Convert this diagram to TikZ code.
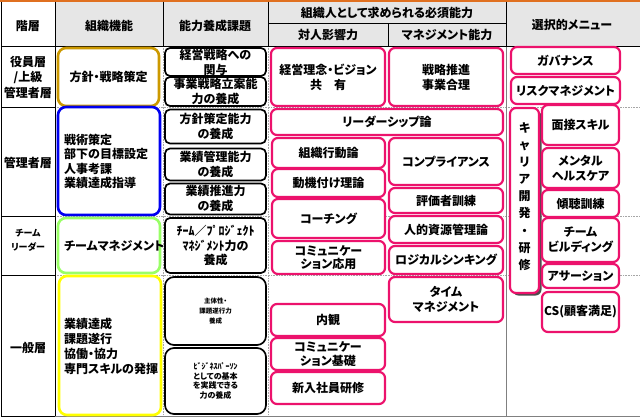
\documentclass[tikz,border=0pt]{standalone}
\usepackage{fontspec}
\setmainfont{Noto Sans CJK JP}[RawFeature=+palt]
\usetikzlibrary{shadows}

\definecolor{menupink}{RGB}{236,18,108}
\definecolor{headgray}{RGB}{230,230,230}
\definecolor{topgold}{RGB}{204,153,0}
\definecolor{midblue}{RGB}{0,0,240}
\definecolor{leafgreen}{RGB}{153,255,102}
\definecolor{brightyellow}{RGB}{255,255,0}
\definecolor{toporange}{RGB}{224,112,32}

\begin{document}
\begin{tikzpicture}[x=1pt, y=-1pt,
	every node/.style={font=\bfseries\fontsize{12}{15}\selectfont, align=center, inner sep=0pt},
	headline/.style={black, line width=0.8pt},
	softline/.style={gray!70, densely dotted, line width=0.6pt},
	pinkbox/.style={draw=menupink, line width=2.2pt, rounded corners=6pt, fill=white},
	taskbox/.style={draw=black, line width=1.7pt, rounded corners=5pt, fill=white},
	rolebox/.style={line width=2.6pt, rounded corners=8pt, fill=white}]
	% Table grid:
	\useasboundingbox (0,0) rectangle (640,418);
	\fill[headgray] (55,2) rectangle (640,46);
	\draw[toporange, line width=1.5pt] (0,0.75) -- (640,0.75);
	\draw[softline] (55,107) -- (640,107) (55,216) -- (640,216) (55,275) -- (640,275);
	\draw[softline] (163,46) -- (163,416) (268,46) -- (268,416);
	\draw[gray, line width=0.6pt] (506,46) -- (506,416) (55,416) -- (640,416);
	\draw[headline] (1,1.5) -- (1,416) -- (55,416) (55,1.5) -- (55,416);
	\draw[headline] (1,107) -- (55,107) (1,216) -- (55,216) (1,275) -- (55,275);
	\draw[headline] (1,46) -- (640,46) (163,1.5) -- (163,46) (268,1.5) -- (268,46) (506,1.5) -- (506,46);
	\draw[headline] (268,23) -- (506,23) (388,23) -- (388,46);
	% Headings:
	\node (hkaiso) at (28,26) {階層};
	\node (hkinou) at (109,26) {組織機能};
	\node (hkadai) at (215,26) {能力養成課題};
	\node (hhissu) at (387,13) {組織人として求められる必須能力};
	\node (htaijin) at (328,35) {対人影響力};
	\node (hmanage) at (447,35) {マネジメント能力};
	\node (hmenu) at (572,25) {選択的メニュー};
	\node[font=\bfseries\fontsize{12}{15.5}\selectfont] (ryakuin) at (28,77) {役員層\\/上級\\管理者層};
	\node (rkanri) at (28,163) {管理者層};
	\node[font=\bfseries\fontsize{9}{14}\selectfont] (rteam) at (28,240) {チーム\\リーダー};
	\node (rippan) at (28,348) {一般層};
	% Organisation functions:
	\node[rolebox, draw=topgold, minimum width=101pt, minimum height=58pt] (fhoushin) at (108.5,77) {方針・戦略策定};
	\node[rolebox, draw=midblue, minimum width=102pt, minimum height=108pt] (fsenjutsu) at (109,161) {};
	\node[anchor=west, align=left, font=\bfseries\fontsize{12}{14.3}\selectfont] (tsenjutsu) at (64,161.5) {戦術策定\\部下の目標設定\\人事考課\\業績達成指導};
	\node[rolebox, draw=leafgreen, minimum width=102pt, minimum height=55pt] (fteam) at (109,245.5) {};
	\node[anchor=west] (tteam) at (64,246) {チームマネジメント};
	\node[rolebox, draw=brightyellow, minimum width=102pt, minimum height=139pt] (fgyoseki) at (110,345.5) {};
	\node[anchor=west, align=left, font=\bfseries\fontsize{12}{15}\selectfont] (tgyoseki) at (64,346) {業績達成\\課題遂行\\協働・協力\\専門スキルの発揮};
	% Training tasks:
	\node[taskbox, minimum width=101pt, minimum height=28pt] (kkanyo) at (215.5,62) {経営戦略への\\関与};
	\node[taskbox, minimum width=101pt, minimum height=29pt] (kjigyo) at (215.5,91.5) {事業戦略立案能\\力の養成};
	\node[taskbox, minimum width=101pt, minimum height=34pt] (khoushin) at (215.5,126.5) {方針策定能力\\の養成};
	\node[taskbox, minimum width=101pt, minimum height=32pt] (kkanri) at (215.5,164.5) {業績管理能力\\の養成};
	\node[taskbox, minimum width=101pt, minimum height=31pt] (ksuishin) at (215.5,199) {業績推進力\\の養成};
	\node[taskbox, minimum width=101pt, minimum height=55pt, font=\bfseries\fontsize{12}{14.5}\selectfont] (kproject) at (215.5,245.5) {ﾁｰﾑ／ﾌﾟﾛｼﾞｪｸﾄ\\ﾏﾈｼﾞﾒﾝﾄ力の\\養成};
	\node[taskbox, minimum width=101pt, minimum height=68pt, rounded corners=9pt, font=\bfseries\fontsize{6.5}{10}\selectfont] (kshutai) at (215.5,311) {主体性・\\課題遂行力\\養成};
	\node[taskbox, minimum width=101pt, minimum height=66pt, rounded corners=9pt, font=\bfseries\fontsize{8}{9.4}\selectfont] (kbiz) at (215.5,381) {ﾋﾞｼﾞﾈｽﾊﾟｰｿﾝ\\としての基本\\を実践できる\\力の養成};
	% Required abilities:
	\node[pinkbox, minimum width=114pt, minimum height=58pt] (arinen) at (328,77) {経営理念・ビジョン\\共　有};
	\node[pinkbox, minimum width=114pt, minimum height=58pt] (asenryaku) at (446,77) {戦略推進\\事業合理};
	\node[pinkbox, minimum width=232pt, minimum height=26pt] (aleader) at (387,122) {リーダーシップ論};
	\node[pinkbox, minimum width=113pt, minimum height=30pt] (asoshiki) at (328.5,153) {組織行動論};
	\node[pinkbox, minimum width=113pt, minimum height=28pt] (adouki) at (328.5,183) {動機付け理論};
	\node[pinkbox, minimum width=113pt, minimum height=39pt] (acoach) at (328.5,218.5) {コーチング};
	\node[pinkbox, minimum width=113pt, minimum height=33pt, font=\bfseries\fontsize{12}{13.5}\selectfont] (acomapp) at (328.5,257.5) {コミュニケー\\ション応用};
	\node[pinkbox, minimum width=114pt, minimum height=32pt] (anaikan) at (328,320) {内観};
	\node[pinkbox, minimum width=114pt, minimum height=32pt, font=\bfseries\fontsize{12}{13.5}\selectfont] (acombas) at (328,354) {コミュニケー\\ション基礎};
	\node[pinkbox, minimum width=114pt, minimum height=32pt] (ashinnyu) at (328,388) {新入社員研修};
	\node[pinkbox, minimum width=114pt, minimum height=47pt] (acompl) at (446,161.5) {コンプライアンス};
	\node[pinkbox, minimum width=114pt, minimum height=25pt] (ahyouka) at (446,200.5) {評価者訓練};
	\node[pinkbox, minimum width=114pt, minimum height=27pt] (ajinteki) at (446,229.5) {人的資源管理論};
	\node[pinkbox, minimum width=114pt, minimum height=28pt] (alogic) at (446,260) {ロジカルシンキング};
	\node[pinkbox, minimum width=114pt, minimum height=45pt] (atime) at (446,299.5) {タイム\\マネジメント};
	% Optional menu:
	\node[pinkbox, minimum width=109pt, minimum height=27pt] (mgov) at (565.5,60.5) {ガバナンス};
	\node[pinkbox, minimum width=109pt, minimum height=27pt] (mrisk) at (565.5,90.5) {リスクマネジメント};
	\node[pinkbox, minimum width=29pt, minimum height=185pt, drop shadow={shadow xshift=2.5pt, shadow yshift=-2.5pt, fill=black!70, opacity=1}] (mcareer) at (524.5,200.5) {};
	\node[font=\bfseries\fontsize{12}{17.1}\selectfont] (tcareer) at (524.5,196.5) {キ\\ャ\\リ\\ア\\開\\発\\・\\研\\修};
	\node[pinkbox, minimum width=77pt, minimum height=40pt] (mmensetsu) at (580.5,125) {面接スキル};
	\node[pinkbox, minimum width=77pt, minimum height=40pt] (mmental) at (580.5,168) {メンタル\\ヘルスケア};
	\node[pinkbox, minimum width=77pt, minimum height=27pt] (mkeichou) at (580.5,203.5) {傾聴訓練};
	\node[pinkbox, minimum width=77pt, minimum height=44pt] (mbuild) at (580.5,240) {チーム\\ビルディング};
	\node[pinkbox, minimum width=77pt, minimum height=24pt] (massert) at (580.5,276) {アサーション};
	\node[pinkbox, minimum width=77pt, minimum height=40pt] (mcs) at (580.5,312) {CS(顧客満足)};
\end{tikzpicture}
\end{document}
